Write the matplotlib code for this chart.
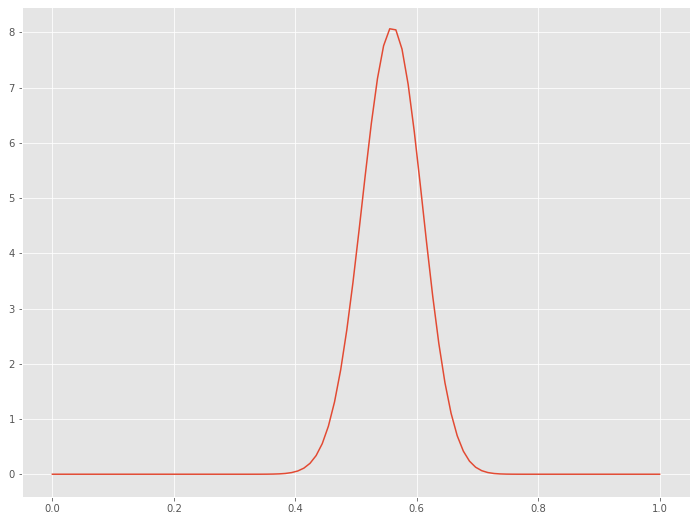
import numpy as np
import matplotlib
matplotlib.use("Agg")
import matplotlib.pyplot as plt

# density values (100 evenly spaced points on [0, 1])
density = [0.0] * 33 + [
    0.0002, 0.0004, 0.0012, 0.0029, 0.0066, 0.0143, 0.0297, 0.0585, 0.110, 0.197,
    0.338, 0.554, 0.870, 1.309, 1.888, 2.612, 3.468, 4.419, 5.406, 6.351,
    7.164, 7.758, 8.065, 8.045, 7.697, 7.060, 6.204, 5.220, 4.201, 3.230,
    2.370, 1.657, 1.103, 0.697, 0.418, 0.237, 0.127, 0.0639, 0.0302, 0.0133,
    0.0055, 0.0021, 0.0007, 0.0002,
] + [0.0] * 23

x = np.linspace(0, 1, len(density))

plt.style.use("ggplot")
fig = plt.figure(figsize=(697 / 72, 520 / 72), dpi=72)
ax = fig.add_axes([22 / 697, 23.5 / 520, 668 / 697, 490 / 520])
ax.plot(x, density)

fig.savefig("out.png", dpi=72)
